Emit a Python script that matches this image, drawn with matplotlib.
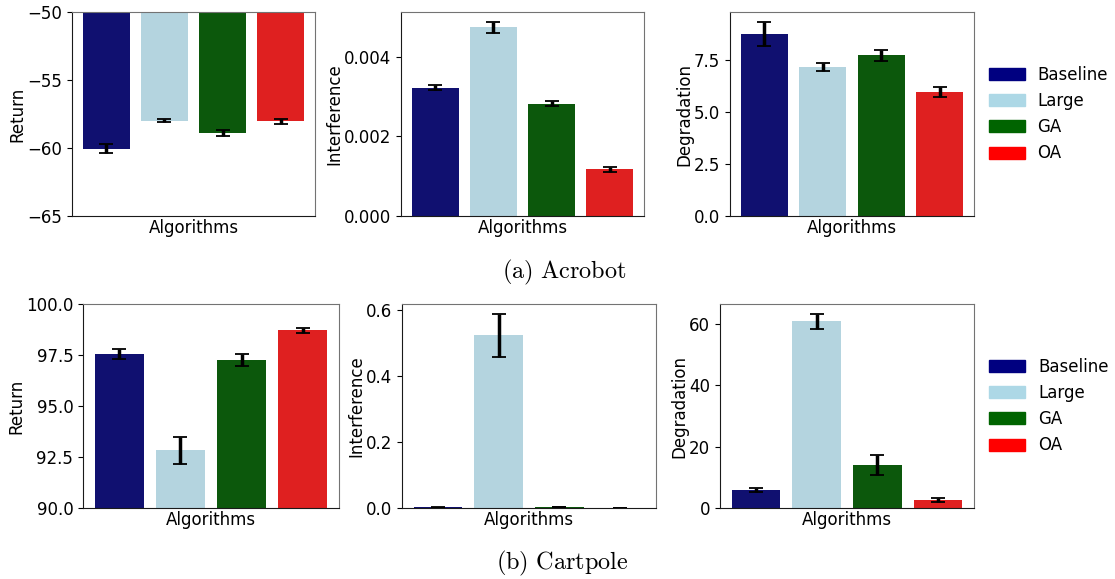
import numpy as np
import matplotlib
matplotlib.use("Agg")
import matplotlib.pyplot as plt
from matplotlib.patches import Patch
import seaborn as sns

# ===============================
# Data
# ===============================
algorithms = ['Baseline', 'Large', 'GA', 'OA']
colors = ['navy', 'lightblue', 'darkgreen', 'red']

# Acrobot
acro_return = [-60.05, -57.98, -58.93, -58.05]
acro_return_err = [0.33, 0.14, 0.22, 0.20]
acro_interf = [0.00323, 0.004745, 0.002828, 0.001172]
acro_interf_err = [0.00006, 0.00014, 0.00006, 0.00006]
acro_degr = [8.77, 7.18, 7.74, 5.97]
acro_degr_err = [0.58, 0.19, 0.27, 0.22]

# Cartpole
cart_return = [97.55, 92.83, 97.24, 98.71]
cart_return_err = [0.23, 0.67, 0.29, 0.12]
cart_interf = [0.002, 0.524, 0.003, 0.001]
cart_interf_err = [0.0005, 0.066, 0.0008, 0.0004]
cart_degr = [5.85, 60.75, 13.97, 2.6]
cart_degr_err = [0.6, 2.5, 3.2, 0.75]

W, H = 1115, 579
plt.rcParams['font.size'] = 12
plt.rcParams['mathtext.fontset'] = 'cm'
fig = plt.figure(figsize=(W / 100, H / 100), dpi=100)

bar_colors = [sns.desaturate(c, 0.75) for c in colors]


def add_axes(x0, x1, y0, y1):
    # pixel box -> figure fraction
    return fig.add_axes([x0 / W, (H - y1) / H, (x1 - x0) / W, (y1 - y0) / H])


def draw_bars(ax, vals, errs, ylabel, ylim=None, yticks=None):
    x = np.arange(len(vals))
    ax.bar(x, vals, width=0.8, color=bar_colors, yerr=errs,
           error_kw=dict(ecolor='black', elinewidth=2.5, capsize=5, capthick=1.3))
    if ylim is not None:
        ax.set_ylim(*ylim)
    if yticks is not None:
        ax.set_yticks(yticks)
    ax.set_xticks([])
    ax.set_xlabel('Algorithms', labelpad=2)
    ax.set_ylabel(ylabel, labelpad=0.5)
    for s in ['top', 'right']:
        ax.spines[s].set_color('0.45')
    for s in ['left', 'bottom']:
        ax.spines[s].set_color('0.1')


def draw_legend(ax):
    handles = [Patch(color=c, label=a) for c, a in zip(colors, algorithms)]
    ax.legend(handles=handles, loc='center left', bbox_to_anchor=(1.033, 0.5),
              frameon=False, borderaxespad=0, handlelength=2.15, handleheight=0.75,
              labelspacing=0.5, handletextpad=0.78)


# Row (a) Acrobot
ax1 = add_axes(72, 315, 12, 216)
draw_bars(ax1, acro_return, acro_return_err, 'Return', (-65, -50), [-65, -60, -55, -50])
ax2 = add_axes(401, 644, 12, 216)
draw_bars(ax2, acro_interf, acro_interf_err, 'Interference', None, [0, 0.002, 0.004])
ax2.set_yticklabels(['0.000', '0.002', '0.004'])
ax3 = add_axes(730, 974, 12, 216)
draw_bars(ax3, acro_degr, acro_degr_err, 'Degradation', None, [0, 2.5, 5.0, 7.5])
draw_legend(ax3)

# Row (b) Cartpole
ax4 = add_axes(83, 339, 304, 508)
draw_bars(ax4, cart_return, cart_return_err, 'Return', (90, 100), [90, 92.5, 95, 97.5, 100])
ax5 = add_axes(402, 656, 304, 508)
draw_bars(ax5, cart_interf, cart_interf_err, 'Interference', None, [0, 0.2, 0.4, 0.6])
ax6 = add_axes(720, 974, 304, 508)
draw_bars(ax6, cart_degr, cart_degr_err, 'Degradation', None, [0, 20, 40, 60])
draw_legend(ax6)

# Captions
fig.text(564 / W, 1 - 272 / H, r'$\mathrm{(a)\ Acrobot}$', ha='center', va='center', fontsize=17.5)
fig.text(562 / W, 1 - 563 / H, r'$\mathrm{(b)\ Cartpole}$', ha='center', va='center', fontsize=17.5)

plt.savefig('out.png', dpi=100)
